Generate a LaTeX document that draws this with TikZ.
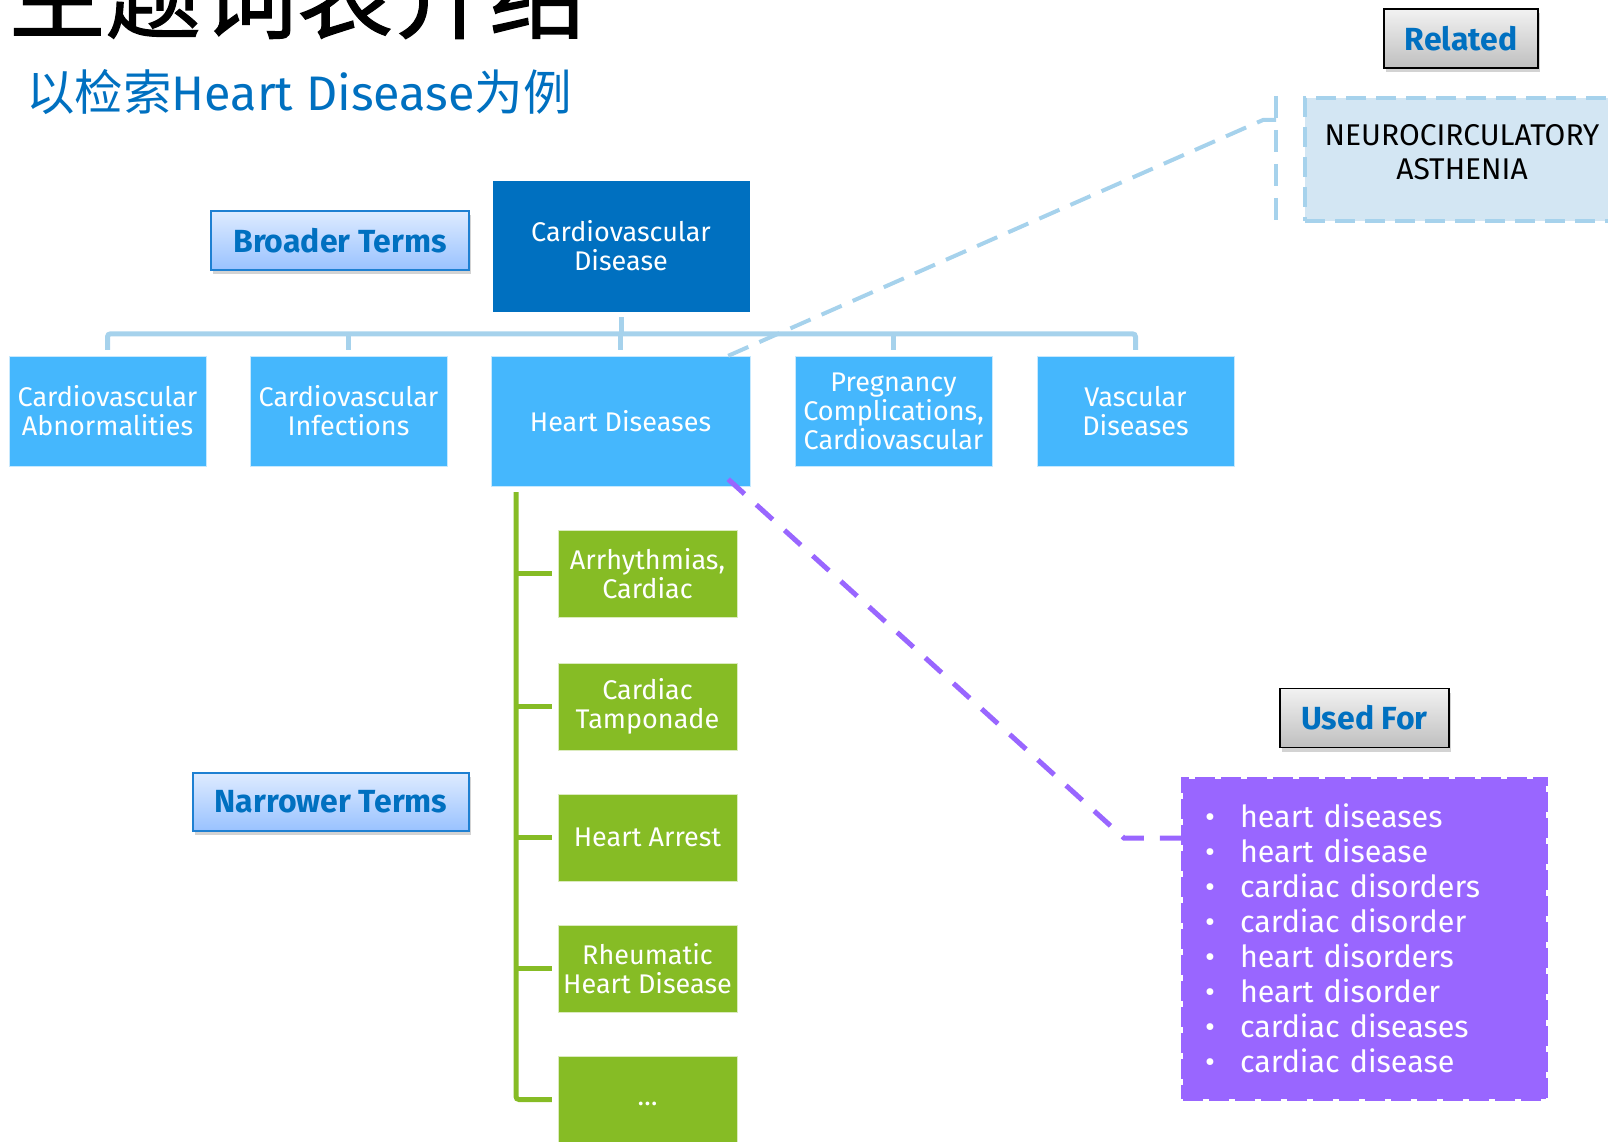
\documentclass[tikz,border=0pt]{standalone}
\usepackage{fontspec}
\setmainfont{Fira Sans}
\newfontfamily\cjk{Noto Sans CJK SC}
\newfontfamily\cjkt[FakeBold=1.2]{Noto Sans CJK SC}
\usetikzlibrary{positioning,shadows,shadings}
\definecolor{ttlBlue}{RGB}{0,112,192}
\definecolor{bnFill}{RGB}{69,183,253}
\definecolor{trLine}{RGB}{166,210,236}
\definecolor{rlFill}{RGB}{211,230,243}
\definecolor{ntFill}{RGB}{134,188,37}
\definecolor{ufFill}{RGB}{153,102,255}
\definecolor{btTop}{RGB}{222,235,255}
\definecolor{btBot}{RGB}{153,194,255}
\definecolor{btLine}{RGB}{30,128,210}
\definecolor{gyTop}{RGB}{242,242,242}
\definecolor{gyBot}{RGB}{191,191,191}
\newcommand{\fs}[2]{\fontsize{#1}{#2}\selectfont}
\newcommand{\bul}{\makebox[37pt][l]{\hspace{2pt}\textbullet}}

\begin{document}
\begin{tikzpicture}[x=1pt,y=-1pt,
  tag/.style ={draw=btLine,line width=1.5pt,top color=btTop,bottom color=btBot,text=ttlBlue,font=\fs{32}{36}\bfseries,inner sep=0pt,drop shadow={opacity=.35,shadow xshift=2pt,shadow yshift=-4pt}},
  gtag/.style={tag,draw=black,top color=gyTop,bottom color=gyBot},
  term/.style={fill=bnFill,draw=white!70!bnFill,text=white,align=center,font=\fs{27}{29},inner sep=0pt,minimum width=197pt,minimum height=110pt},
  head/.style={term,fill=ttlBlue,draw=ttlBlue,minimum width=256pt,minimum height=130pt},
  nt/.style  ={term,fill=ntFill,draw=white!70!ntFill,minimum width=179pt,minimum height=87pt},
  rel/.style ={fill=rlFill,draw=trLine,line width=4pt,dash pattern=on 20pt off 10pt,minimum width=314pt,minimum height=123pt},
  uf/.style  ={fill=ufFill,draw=ufFill,line width=4pt,dash pattern=on 20pt off 6pt,text=white,align=left,font=\fs{30.5}{35},inner xsep=20pt,inner ysep=0pt,text width=323pt,minimum height=320pt},
  tree/.style={draw=trLine,line width=5pt,rounded corners=3pt},
  gtree/.style={draw=ntFill,line width=5pt,rounded corners=3pt},
  reldash/.style={draw=trLine,line width=4pt,dash pattern=on 22pt off 12pt},
  ufdash/.style={draw=ufFill,line width=5pt,dash pattern=on 22pt off 16pt}]
\useasboundingbox (0,0) rectangle (1608,1142);
\clip (0,0) rectangle (1608,1142);
\node[anchor=base west,inner sep=0pt,font=\cjkt\fs{96}{96}] (ttl) at (9,31) {主题词表介绍};
\node[anchor=base west,inner sep=0pt,text=ttlBlue,font=\fs{48.5}{53}] (sub) at (26,111) {{\cjk 以检索}Heart Disease{\cjk 为例}};
\node[tag,minimum width=258pt,minimum height=59pt] (bt)  at (340,240.5) {Broader Terms};
\node[tag,minimum width=276pt,minimum height=58pt] (nrt) at (331,802)   {Narrower Terms};
\node[gtag,minimum width=154pt,minimum height=59pt] (rlt) at (1461,38.5) {Related};
\node[gtag,minimum width=169pt,minimum height=59pt] (uft) at (1364.5,718) {Used For};
\node[head] (cvd)  at (621,246)    {Cardiovascular\\Disease};
\node[term] (abn)  at (107.5,411)  {Cardiovascular\\Abnormalities};
\node[term] (inf)  at (348.5,411)  {Cardiovascular\\Infections};
\node[term,minimum width=259pt,minimum height=130pt] (hd) at (620.5,421) {Heart Diseases};
\node[term] (preg) at (893.5,411)  {Pregnancy\\Complications,\\Cardiovascular};
\node[term] (vasc) at (1135.5,411) {Vascular\\Diseases};
\node[nt] (arr) at (647.5,573.5)  {Arrhythmias,\\Cardiac};
\node[nt] (tam) at (647.5,706.5)  {Cardiac\\Tamponade};
\node[nt] (har) at (647.5,837.5)  {Heart Arrest};
\node[nt] (rhd) at (647.5,968.5)  {Rheumatic\\Heart Disease};
\node[nt] (etc) at (647.5,1099.5) {\vphantom{Ag}\textellipsis};
\node[rel] (neu) at (1462,159.5) {};
\node[align=center,font=\fs{30}{34},inner sep=0pt] (neut) at (1462,152) {NEUROCIRCULATORY\\ASTHENIA};
\node[uf]  (ufb) at (1364.5,938.5) {\bul heart diseases\\\bul heart disease\\\bul cardiac disorders\\\bul cardiac disorder\\\bul heart disorders\\\bul heart disorder\\\bul cardiac diseases\\\bul cardiac disease};
\draw[tree] ([yshift=6pt]abn.north) -- ++(0,-16) -| ([yshift=6pt]vasc.north);
\foreach \n in {inf,hd,preg} \draw[tree] ([yshift=6pt]\n.north) -- ++(0,-16);
\draw[tree] ([yshift=-6pt]cvd.south) -- ++(0,17);
\coordinate (gtop) at (516,492);
\foreach \n in {arr,tam,har,rhd} \draw[gtree] (gtop |- \n.west) -- ([xshift=-6pt]\n.west);
\draw[gtree] (gtop) |- ([xshift=-6pt]etc.west);
\coordinate (rk) at (1263,120);
\coordinate (rb) at ([xshift=-27pt]neu.west);
\draw[reldash] ([xshift=-22pt]hd.north east) -- (rk) -- (rk -| rb);
\draw[reldash] (rb |- neu.north) -- (rb |- neu.south);
\coordinate (pk) at (1124,838);
\draw[ufdash] ([xshift=-22pt,yshift=7pt]hd.south east) -- (pk) -- (pk -| ufb.west);
\end{tikzpicture}
\end{document}
